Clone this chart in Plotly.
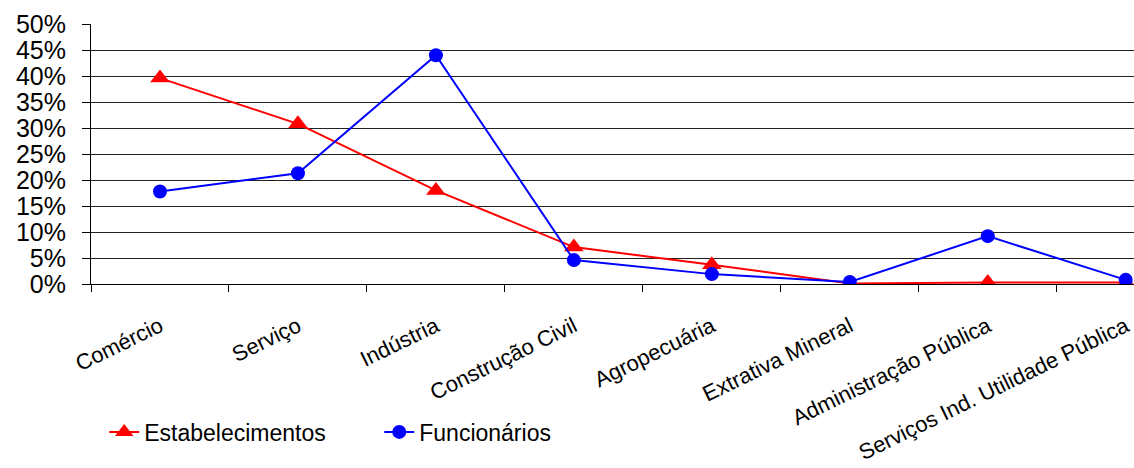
import plotly.graph_objects as go

categories = ["Comércio", "Serviço", "Indústria", "Construção Civil", "Agropecuária",
              "Extrativa Mineral", "Administração Pública", "Serviços Ind. Utilidade Pública"]
estabelecimentos = [39.6, 30.8, 18.0, 7.1, 3.7, 0.1, 0.3, 0.3]
funcionarios = [17.8, 21.3, 44.0, 4.6, 1.9, 0.4, 9.2, 0.8]
y_ticks = [0, 5, 10, 15, 20, 25, 30, 35, 40, 45, 50]

FONT = "Liberation Sans, Arial, sans-serif"

fig = go.Figure()
fig.add_trace(go.Scatter(
    x=categories, y=estabelecimentos, name="Estabelecimentos", mode="lines+markers",
    line=dict(color="#ff0000", width=2),
    marker=dict(symbol="triangle-up", size=17, color="#ff0000"),
))
fig.add_trace(go.Scatter(
    x=categories, y=funcionarios, name="Funcionários", mode="lines+markers",
    line=dict(color="#0000ff", width=2),
    marker=dict(symbol="circle", size=14, color="#0000ff"),
))

fig.update_layout(
    width=1134, height=468,
    margin=dict(l=91, r=0, t=24, b=184, autoexpand=False),
    paper_bgcolor="white", plot_bgcolor="white",
    font=dict(family=FONT, color="black"),
    legend=dict(orientation="h", x=0.0127, y=-0.569, xanchor="left", yanchor="middle",
                font=dict(size=23, family=FONT), entrywidth=230, entrywidthmode="pixels",
                bgcolor="rgba(0,0,0,0)"),
    xaxis=dict(
        type="category", range=[-0.5, 7.06], tickson="boundaries", automargin=False,
        ticks="outside", ticklen=7, tickcolor="black", tickwidth=1,
        showline=True, linecolor="black", linewidth=1,
        showgrid=False, tickangle=-26, tickfont=dict(size=22, family=FONT),
        ticklabelstandoff=20,
    ),
    yaxis=dict(
        range=[0, 50], tickvals=y_ticks, ticktext=[f"{v}%" for v in y_ticks],
        automargin=False,
        ticks="outside", ticklen=8, tickcolor="black", tickwidth=1,
        showline=True, linecolor="black", linewidth=1,
        showgrid=True, gridcolor="#222222", gridwidth=1,
        zeroline=False, tickfont=dict(size=25, family=FONT),
        ticklabelstandoff=11,
    ),
)

fig.write_html(
    "out.html",
    config={"displayModeBar": False},
    post_script="document.body.style.margin='0';document.body.style.overflow='hidden';",
)
